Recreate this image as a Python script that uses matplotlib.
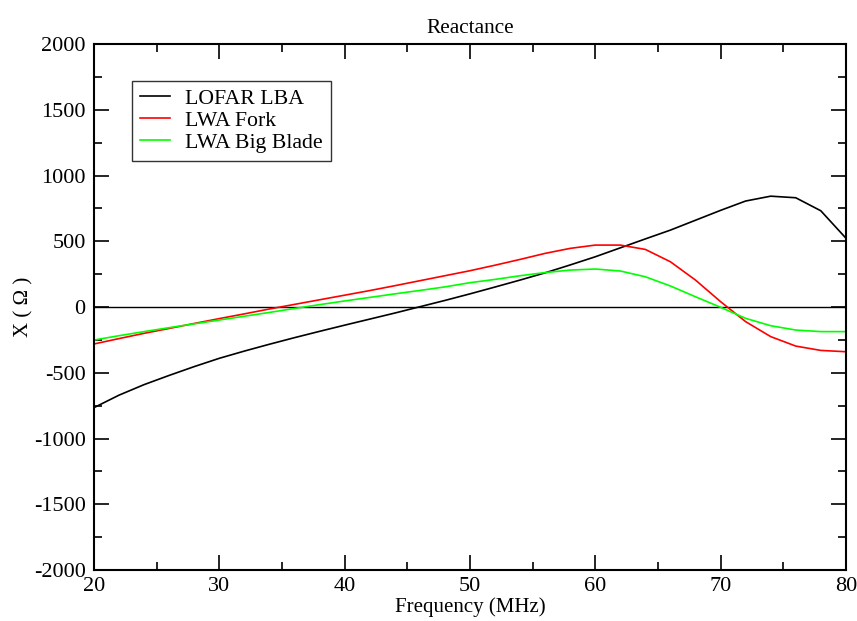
import matplotlib
matplotlib.use('Agg')
import matplotlib.pyplot as plt
from matplotlib.ticker import MultipleLocator

# frequency grid (MHz)
freq = [20, 22, 24, 26, 28, 30, 32, 34, 36, 38, 40, 42, 44, 46, 48, 50,
        52, 54, 56, 58, 60, 62, 64, 66, 68, 70, 72, 74, 76, 78, 80]

# reactance values (ohm)
lofar_lba = [-765, -670, -590, -520, -453, -390, -335, -283, -233, -185, -138,
             -92, -46, 2, 50, 100, 152, 205, 260, 320, 382, 450, 518, 585, 660,
             735, 806, 843, 831, 732, 524]
lwa_fork = [-281, -240, -200, -163, -125, -88, -52, -15, 20, 55, 90, 125, 162,
            200, 238, 276, 318, 362, 408, 446, 471, 471, 438, 344, 205, 41,
            -111, -225, -297, -330, -340]
lwa_blade = [-251, -218, -187, -157, -128, -99, -70, -41, -11, 18, 46, 73, 100,
             126, 153, 185, 210, 238, 262, 281, 289, 274, 230, 160, 78, -2,
             -86, -142, -175, -187, -187]

plt.rcParams['font.family'] = ['Liberation Serif', 'DejaVu Serif']
plt.rcParams['axes.unicode_minus'] = False

fig = plt.figure(figsize=(8.57, 6.21), dpi=100)
ax = fig.add_axes([0.1097, 0.0821, 0.8773, 0.8470])

ax.axhline(0, color='black', lw=1.0)
ax.plot(freq, lofar_lba, color='black', lw=1.2, label='LOFAR LBA')
ax.plot(freq, lwa_fork, color='red', lw=1.2, label='LWA Fork')
ax.plot(freq, lwa_blade, color='#00ff00', lw=1.2, label='LWA Big Blade')

ax.set_xlim(20, 80)
ax.set_ylim(-2000, 2000)
ax.xaxis.set_major_locator(MultipleLocator(10))
ax.xaxis.set_minor_locator(MultipleLocator(5))
ax.yaxis.set_major_locator(MultipleLocator(500))
ax.yaxis.set_minor_locator(MultipleLocator(250))
ax.tick_params(which='both', direction='in', top=True, right=True,
               labelsize=16, width=1.2)
ax.tick_params(axis='x', pad=5)
ax.tick_params(axis='y', pad=6)
ax.tick_params(which='major', length=11)
ax.tick_params(which='minor', length=6)
for s in ax.spines.values():
    s.set_linewidth(1.5)

ax.set_title('Reactance', fontsize=15.3, pad=8)
ax.set_xlabel('Frequency (MHz)', fontsize=15, labelpad=1)
ax.set_ylabel('X ( Ω )', fontsize=15, labelpad=0)

leg = ax.legend(loc='upper left', bbox_to_anchor=(0.0505, 0.9297), fontsize=15.7,
                frameon=True, fancybox=False, edgecolor='black',
                borderaxespad=0, handlelength=1.4, handletextpad=0.7,
                borderpad=0.35, labelspacing=0.08)
leg.get_frame().set_linewidth(1.0)

fig.savefig('out.png', dpi=100)
